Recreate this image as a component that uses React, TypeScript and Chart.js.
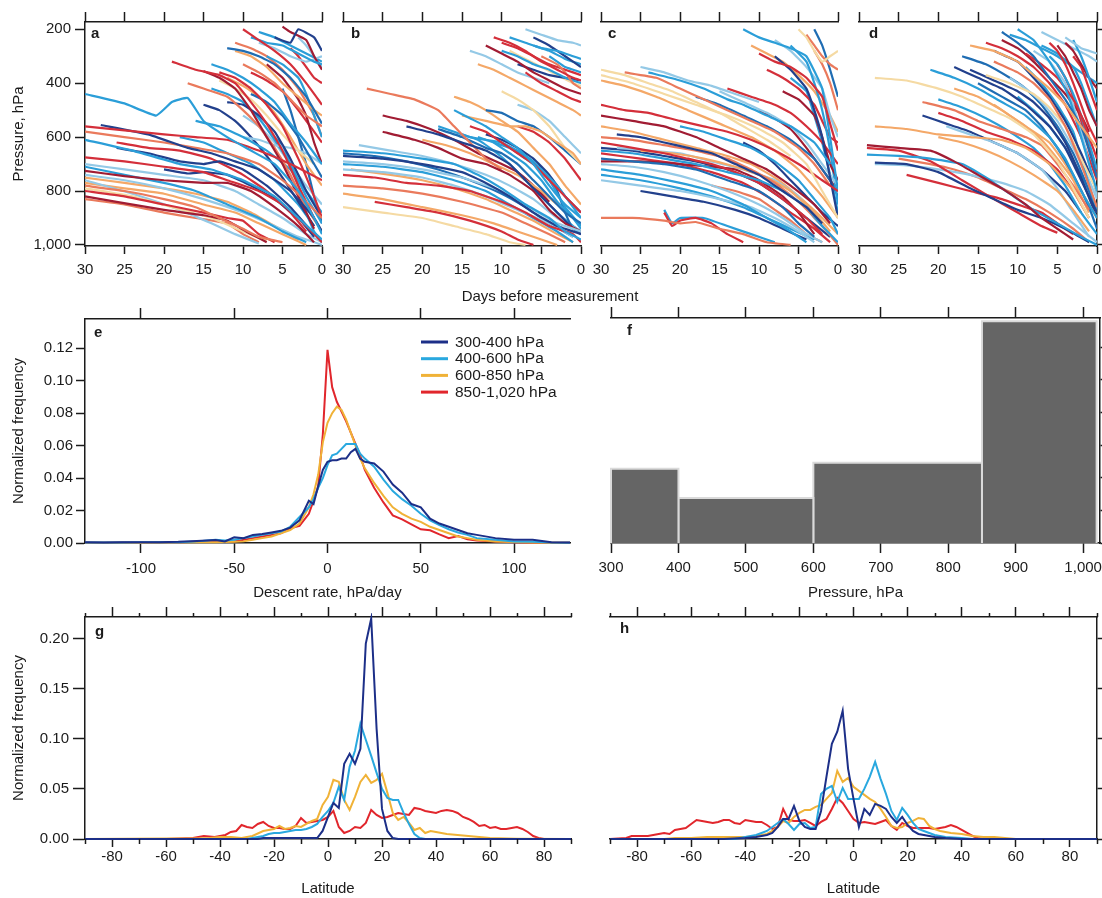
import React, { useEffect, useRef } from 'react';
import { Chart, registerables } from 'chart.js';

Chart.register(...registerables);

const FONT = '"Liberation Sans", Arial, Helvetica, sans-serif';
const INK = '#1b1b1b';
Chart.defaults.font.family = FONT;
Chart.defaults.color = INK;

// ---------------- DATA ----------------
// tick values
const dayTicks = [0, 5, 10, 15, 20, 25, 30];
const pressureTicks = [200, 400, 600, 800, 1000];
const rateTicks = [-100, -50, 0, 50, 100];
const freqTicksE = [0, 0.02, 0.04, 0.06, 0.08, 0.1, 0.12];
const histTicks = [300, 400, 500, 600, 700, 800, 900, 1000];
const latTicks = [-80, -60, -40, -20, 0, 20, 40, 60, 80];
const latMinor = [-90, -70, -50, -30, -10, 10, 30, 50, 70, 90];
const freqTicksLat = [0, 0.05, 0.1, 0.15, 0.2];

// panels a-d : trajectories, [days before measurement, pressure hPa]
const trackPalette = ['#22408c', '#1f6db3', '#2b9ed8', '#94c9e6', '#f5daa3', '#f4a868', '#ea7a5c', '#d42f3a', '#a11c33'];

const aTracks = [
  [[30,440],[25,475],[21,520],[19,470],[17,455],[15,540],[12,600],[9,650],[6,700],[3,800],[1,900],[0,960]],
  [[30,560],[25,575],[20,590],[16,600],[12,610],[8,650],[4,700],[0,760]],
  [[28,555],[22,590],[17,640],[14,660],[11,690],[8,720],[4,800],[1,900],[0,950]],
  [[30,610],[24,650],[18,700],[14,720],[10,760],[6,820],[3,900],[0,980]],
  [[30,580],[25,600],[20,620],[16,640],[12,660],[8,700],[5,760],[2,840],[0,900]],
  [[30,675],[25,690],[20,710],[15,730],[12,760],[8,800],[5,850],[2,930],[0,990]],
  [[26,640],[22,660],[18,690],[15,700],[13,690],[10,720],[7,780],[4,860],[1,960]],
  [[30,725],[25,745],[20,760],[15,770],[12,770],[9,800],[6,860],[3,930],[1,990]],
  [[30,710],[25,740],[20,770],[16,800],[12,850],[8,900],[5,950],[2,990]],
  [[30,740],[25,760],[20,790],[15,830],[10,880],[6,930],[3,970],[0,1000]],
  [[30,780],[25,800],[20,830],[16,860],[13,900],[10,940],[8,970],[5,990]],
  [[30,800],[25,820],[20,850],[15,880],[12,900],[10,910],[8,960],[6,990]],
  [[30,820],[26,840],[20,870],[15,890],[12,910],[9,960],[7,990]],
  [[30,790],[24,820],[19,860],[14,900],[10,950],[7,985]],
  [[30,760],[24,810],[18,870],[14,920],[11,960],[8,995]],
  [[30,770],[25,790],[20,810],[15,850],[11,880],[8,920],[5,960],[2,1000]],
  [[19,320],[16,350],[13,370],[11,400],[9,470],[7,550],[5,650],[3,780],[1,900]],
  [[15,355],[13,380],[11,420],[9,500],[7,600],[5,700],[3,820],[1,940]],
  [[17,400],[15,420],[12,450],[10,500],[8,560],[6,640],[4,740],[2,860],[0,950]],
  [[14,330],[12,350],[10,380],[8,420],[6,470],[4,550],[2,620],[0,700]],
  [[12,270],[10,280],[8,300],[6,330],[4,380],[2,450],[0,550]],
  [[10,200],[8,240],[6,280],[4,330],[2,400],[0,480]],
  [[9,230],[7,250],[5,260],[3,290],[1,320],[0,330]],
  [[11,280],[9,300],[7,340],[5,400],[3,450],[1,500],[0,520]],
  [[6,230],[4,250],[3,200],[1,230],[0,280]],
  [[5,190],[4,210],[2,240],[1,300],[0,350]],
  [[8,250],[6,270],[4,300],[2,320],[0,300]],
  [[13,360],[11,380],[9,420],[7,480],[5,560],[3,680],[1,820],[0,900]],
  [[12,470],[10,480],[8,520],[6,580],[4,680],[2,800],[0,900]],
  [[16,540],[13,560],[10,600],[7,650],[4,720],[2,800],[0,880]],
  [[9,440],[7,470],[5,520],[3,600],[1,700],[0,750]],
  [[10,330],[8,360],[6,400],[4,460],[2,520],[0,560]],
  [[13,390],[11,420],[9,460],[7,520],[5,590],[3,650],[1,700]],
  [[7,300],[5,330],[3,380],[2,440],[1,520],[0,600]],
  [[4,270],[3,300],[2,340],[1,380],[0,400]],
  [[20,720],[17,735],[15,730],[12,740],[9,780],[6,830],[3,900],[1,970]],
  [[10,600],[8,610],[6,630],[4,640],[2,660],[0,700]],
  [[6,600],[5,630],[4,700],[3,780],[2,880],[1,950],[0,990]],
  [[30,700],[25,720],[20,740],[15,760],[11,800],[8,850],[5,900],[2,960],[0,990]],
  [[30,750],[25,770],[20,790],[16,810],[12,840],[9,880],[6,930],[3,980]],
  [[30,830],[25,850],[20,880],[16,900],[12,920],[10,960],[8,990]],
  [[26,620],[22,640],[18,650],[14,680],[10,740],[7,800],[4,880],[2,950]],
  [[14,420],[12,440],[10,470],[8,530],[6,610],[4,700],[2,820],[0,920]],
  [[11,250],[9,270],[7,300],[5,350],[3,420],[1,520],[0,600]],
  [[8,210],[6,230],[4,260],[2,290],[0,320]],
  [[7,330],[5,380],[3,460],[2,520],[1,620],[0,700]],
  [[15,480],[13,500],[11,540],[9,600],[7,670],[5,750],[3,840],[1,930]],
  [[12,380],[10,410],[8,450],[6,510],[4,600],[2,700],[0,780]],
  [[10,520],[8,560],[6,620],[4,700],[2,780],[0,850]],
  [[18,600],[15,620],[12,660],[9,700],[6,760],[3,850],[1,930]],
  [[5,420],[4,500],[3,600],[2,700],[1,820],[0,920]],
  [[3,230],[2,260],[1,300],[0,340]],
  [[9,360],[7,390],[5,430],[3,500],[1,580],[0,620]],
];
const aClass = [2,7,0,2,6,7,0,8,2,3,6,7,8,4,3,5,7,8,6,2,1,7,2,5,0,8,3,7,0,2,1,6,4,2,7,0,3,2,3,5,6,7,2,6,2,8,0,5,3,2,1,3,7];

const bTracks = [
  [[30,650],[25,660],[20,680],[16,700],[13,740],[10,790],[7,850],[4,900],[2,950],[0,980]],
  [[30,670],[25,680],[20,700],[15,730],[12,770],[9,820],[6,880],[3,930],[0,960]],
  [[30,690],[25,700],[20,720],[15,750],[10,800],[6,870],[3,920],[0,950]],
  [[30,740],[26,750],[22,770],[18,780],[14,800],[10,840],[7,880],[4,930],[1,960],[0,990]],
  [[30,780],[25,790],[20,810],[15,840],[10,880],[7,920],[4,960],[2,990]],
  [[30,810],[25,830],[20,860],[15,890],[11,920],[8,950],[5,980],[3,1000]],
  [[26,840],[22,860],[18,880],[14,910],[10,950],[8,980],[6,1000]],
  [[30,860],[25,880],[20,900],[16,930],[12,960],[9,990],[7,1000]],
  [[25,580],[21,610],[18,640],[15,680],[12,700],[9,740],[6,800],[4,870],[2,920],[0,950]],
  [[22,560],[18,590],[15,620],[12,650],[9,700],[7,760],[5,820],[3,880],[1,940]],
  [[27,420],[24,440],[21,460],[18,500],[16,560],[14,620],[12,680],[10,720]],
  [[16,500],[14,530],[12,560],[10,600],[8,640],[6,700],[4,780],[2,850],[0,900]],
  [[18,570],[15,600],[12,640],[10,660],[8,700],[6,760],[4,820],[2,880],[0,920]],
  [[14,560],[12,580],[10,620],[8,660],[6,700],[4,760],[2,820],[0,880]],
  [[13,600],[11,620],[9,640],[7,680],[5,720],[3,780],[1,860],[0,900]],
  [[20,610],[17,630],[14,660],[11,700],[8,740],[5,800],[3,850]],
  [[15,520],[12,540],[9,560],[7,560],[5,580],[3,620],[1,660],[0,700]],
  [[11,230],[9,250],[7,280],[5,320],[3,350],[1,380],[0,390]],
  [[12,260],[10,290],[8,320],[6,360],[4,390],[2,420],[0,440]],
  [[9,230],[7,250],[5,270],[3,280],[1,300],[0,310]],
  [[6,230],[4,260],[2,300],[0,340]],
  [[7,200],[5,220],[3,240],[1,250],[0,260]],
  [[13,330],[11,350],[9,380],[7,410],[5,440],[3,470],[1,500],[0,520]],
  [[5,300],[3,330],[2,360],[1,400],[0,420]],
  [[18,560],[16,580],[14,600],[12,610],[10,620],[8,650],[6,690],[4,760],[2,860],[0,930]],
  [[8,560],[6,580],[4,620],[2,680],[1,720],[0,760]],
  [[10,430],[8,460],[6,500],[4,560],[2,640],[0,700]],
  [[4,300],[3,320],[2,340],[1,350],[0,360]],
  [[12,500],[10,510],[8,540],[6,560],[4,600],[2,650],[0,700]],
  [[30,720],[25,730],[20,750],[16,780],[12,820],[8,870],[4,920],[1,970]],
  [[10,280],[8,300],[6,330],[4,350],[2,380],[0,400]],
  [[8,330],[6,350],[4,370],[2,380],[0,390]],
  [[7,360],[5,400],[3,430],[1,460],[0,470]],
  [[14,280],[12,300],[10,330],[8,360],[6,380],[4,400]],
  [[11,620],[9,660],[7,700],[5,760],[3,840],[1,900],[0,940]],
  [[9,640],[7,670],[5,720],[3,800],[2,880],[1,940],[0,960]],
  [[30,700],[25,710],[20,730],[16,760],[12,800],[9,850],[6,900],[3,950],[1,990]],
  [[30,660],[26,670],[22,690],[18,720],[14,760],[10,810],[7,860],[4,920],[1,970]],
  [[28,630],[24,650],[20,670],[16,700],[12,740],[9,780],[6,830],[3,900],[0,950]],
  [[29,720],[24,740],[20,760],[16,790],[12,830],[9,870],[6,910],[3,960],[1,990]],
  [[25,520],[22,540],[19,570],[16,610],[13,660],[10,700],[8,730],[6,780],[4,840]],
  [[15,590],[13,610],[11,650],[9,700],[7,760],[5,820],[3,880],[1,930],[0,950]],
  [[12,590],[10,610],[8,640],[6,680],[4,740],[2,820],[0,880]],
  [[9,280],[7,310],[5,340],[3,370],[1,400],[0,410]],
  [[6,260],[4,280],[2,310],[0,330]],
  [[10,250],[8,270],[6,300],[4,330],[2,350],[0,370]],
  [[16,450],[14,470],[12,500],[10,540],[8,580],[6,640],[4,700],[2,780],[0,850]],
  [[8,480],[6,500],[4,540],[2,600],[0,660]],
];
const bClass = [2,0,3,7,6,5,7,4,8,0,6,2,1,7,2,5,5,7,8,2,0,3,5,6,2,7,4,2,1,3,2,0,7,3,2,1,2,1,3,5,8,2,0,4,2,7,5,3];

const cTracks = [
  [[30,370],[26,400],[22,440],[18,480],[14,520],[10,570],[7,620],[4,700],[2,800],[0,900]],
  [[24,360],[20,390],[17,420],[14,460],[12,480],[9,520],[6,560],[3,620],[1,700]],
  [[25,340],[22,360],[19,390],[16,410],[13,440],[10,470]],
  [[30,480],[27,500],[24,510],[20,540],[17,560],[14,580],[11,610],[8,650],[5,700],[2,760],[0,800]],
  [[30,520],[26,540],[22,560],[18,600],[15,640],[12,680],[9,720],[6,780],[3,850],[1,920]],
  [[30,390],[27,410],[23,450],[19,500],[15,550],[11,600],[8,650],[5,720],[2,820],[0,900]],
  [[28,590],[25,600],[22,620],[19,640],[16,660],[13,700],[10,740],[7,800],[4,860],[2,920]],
  [[30,650],[26,660],[22,680],[18,700],[14,730],[10,760],[7,800],[4,860],[2,930],[0,990]],
  [[30,620],[26,640],[22,660],[19,680],[16,700],[13,730],[10,770],[7,830],[4,900],[2,960]],
  [[30,680],[26,690],[22,700],[18,720],[14,760],[10,800],[7,860],[5,920],[3,970]],
  [[30,700],[26,710],[22,730],[18,760],[14,800],[10,850],[7,900],[4,960],[2,990]],
  [[30,720],[25,740],[20,770],[16,800],[12,850],[9,900],[6,950],[4,990]],
  [[30,600],[26,610],[22,630],[18,650],[14,680],[11,720],[8,770],[5,840],[2,930],[0,1000]],
  [[30,690],[25,690],[20,700],[16,710],[13,720],[10,760],[7,820],[5,880],[3,960]],
  [[30,900],[26,900],[22,910],[20,920],[18,915],[15,940],[12,960],[9,990],[6,1000]],
  [[22,880],[21,930],[20,910],[18,900],[16,920],[14,960],[12,990]],
  [[22,870],[21,920],[20,900],[17,900],[14,930],[11,960],[8,990]],
  [[25,800],[21,820],[17,840],[13,870],[10,900],[7,940],[4,980]],
  [[30,760],[25,780],[20,800],[15,830],[11,860],[8,900],[5,950],[3,990]],
  [[10,290],[8,320],[6,340],[4,380],[2,450],[1,550],[0,650]],
  [[12,200],[10,230],[8,250],[6,270],[4,300],[2,420],[1,600],[0,800]],
  [[8,300],[6,350],[4,420],[3,500],[2,600],[1,750],[0,900]],
  [[5,200],[4,230],[3,280],[2,320],[1,300],[0,280]],
  [[4,220],[3,260],[2,300],[1,330],[0,350]],
  [[7,430],[5,460],[3,520],[2,600],[1,700],[0,760]],
  [[3,200],[2,260],[1,350],[0,450]],
  [[15,430],[12,470],[9,510],[6,560],[4,620],[2,700],[0,780]],
  [[14,420],[11,450],[8,480],[6,510],[4,560],[2,620],[0,700]],
  [[20,560],[17,580],[14,610],[11,640],[8,690],[5,760],[3,830],[1,900],[0,960]],
  [[25,650],[21,660],[17,680],[13,710],[9,750],[6,800],[3,880],[1,950]],
  [[6,260],[4,320],[3,400],[2,500],[1,650],[0,850]],
  [[9,350],[7,380],[5,420],[3,480],[2,540],[1,600],[0,620]],
  [[3,280],[2,330],[1,400],[0,500]],
  [[28,640],[24,650],[20,660],[16,690],[12,720],[8,760],[5,820],[3,900],[1,960]],
  [[12,620],[10,650],[8,700],[6,760],[4,820],[2,880],[0,930]],
  [[30,640],[26,650],[22,670],[18,690],[14,720],[10,770],[7,830],[4,900],[1,970]],
  [[30,660],[25,680],[20,700],[16,730],[12,770],[9,820],[6,880],[3,940],[1,990]],
  [[30,740],[25,760],[20,790],[16,820],[12,860],[9,900],[6,940],[3,980]],
  [[30,560],[26,580],[22,610],[18,640],[14,670],[11,700],[8,750],[5,820],[2,900],[0,960]],
  [[27,360],[23,380],[20,420],[17,460],[14,500],[11,540],[8,580],[5,640],[3,700],[1,780]],
  [[30,350],[27,370],[24,400],[21,430],[18,470],[15,510],[12,560],[9,610],[6,670]],
  [[18,450],[15,480],[12,520],[9,560],[6,610],[3,680],[1,760],[0,820]],
  [[10,500],[8,530],[6,570],[4,640],[2,720],[0,800]],
  [[8,240],[6,280],[4,340],[2,420],[1,520],[0,600]],
  [[11,260],[9,290],[7,320],[5,370],[3,430],[1,520],[0,580]],
  [[6,380],[4,430],[3,520],[2,620],[1,740],[0,880]],
  [[16,780],[13,800],[10,830],[8,870],[6,910],[4,960],[2,990]],
];
const cClass = [4,2,3,7,8,5,0,2,7,1,3,2,6,8,6,7,2,0,3,7,2,0,4,6,8,1,3,7,2,5,2,7,6,3,0,0,7,2,5,6,4,1,8,3,5,2,6];

const dTracks = [
  [[28,380],[24,390],[20,420],[17,450],[14,490],[11,530],[8,590],[5,690],[3,790],[1,900]],
  [[28,560],[24,570],[20,590],[16,600],[12,610],[9,640],[6,700],[3,800],[1,900]],
  [[29,630],[25,640],[21,650],[18,690],[15,740],[12,790],[9,850],[7,900],[5,940],[3,980]],
  [[29,665],[25,670],[21,680],[17,700],[14,750],[11,810],[8,870],[5,920],[2,970],[0,1000]],
  [[28,695],[24,700],[20,730],[16,790],[13,830],[10,870],[7,900],[4,940],[1,990]],
  [[29,640],[25,650],[21,690],[17,760],[13,830],[10,880],[7,930],[5,955]],
  [[28,700],[24,705],[20,720],[16,740],[12,770],[9,800],[6,850],[3,920],[0,990]],
  [[20,510],[17,540],[14,580],[11,610],[8,650],[5,720],[3,800],[1,900]],
  [[22,470],[18,500],[15,540],[12,570],[9,600],[7,630],[5,700],[3,780],[1,870]],
  [[21,350],[18,380],[15,420],[12,470],[9,520],[6,600],[4,680],[2,800],[0,900]],
  [[18,340],[15,380],[12,420],[9,480],[6,560],[4,640],[2,760],[0,880]],
  [[16,260],[13,280],[10,320],[8,370],[6,420],[4,480],[2,560],[0,640]],
  [[12,210],[10,250],[8,300],[6,380],[4,460],[2,560],[1,650],[0,750]],
  [[10,200],[8,240],[6,320],[4,420],[3,500],[2,600],[1,700],[0,800]],
  [[6,250],[5,280],[4,330],[3,400],[2,480],[1,560],[0,620]],
  [[5,260],[4,300],[3,360],[2,420],[1,500],[0,560]],
  [[4,230],[3,250],[2,270],[1,280],[0,290]],
  [[3,240],[2,300],[1,380],[0,470]],
  [[13,320],[10,360],[8,400],[6,460],[4,560],[2,700],[0,860]],
  [[15,400],[12,450],[9,500],[7,560],[5,640],[3,740],[1,860],[0,940]],
  [[14,370],[11,400],[8,440],[6,490],[4,560],[2,680],[0,800]],
  [[9,290],[7,330],[5,380],[3,460],[2,520],[1,600],[0,680]],
  [[7,260],[5,290],[3,340],[2,400],[1,480],[0,560]],
  [[20,600],[17,620],[14,650],[11,690],[8,740],[5,800],[3,870],[1,950]],
  [[13,280],[10,320],[8,380],[6,450],[4,540],[2,660],[0,800]],
  [[18,420],[15,450],[12,500],[9,560],[6,620],[4,700],[2,800],[0,900]],
  [[9,340],[7,400],[5,480],[3,580],[2,680],[1,780],[0,870]],
  [[4,250],[3,280],[2,330],[1,380],[0,420]],
  [[11,380],[9,420],[7,470],[5,540],[3,640],[1,760],[0,830]],
  [[24,740],[20,770],[16,800],[12,830],[9,860],[7,880],[5,920],[3,960]],
  [[6,300],[5,330],[4,380],[3,440],[2,520],[1,620],[0,720]],
  [[8,280],[6,320],[4,400],[3,480],[2,580],[1,700],[0,820]],
  [[3,300],[2,340],[1,420],[0,500]],
  [[16,350],[13,390],[10,430],[8,470],[6,530],[4,620],[2,750],[0,900]],
  [[20,460],[17,490],[14,530],[11,580],[8,640],[6,700],[4,780],[2,880],[0,960]],
  [[17,300],[14,330],[11,380],[9,420],[7,480],[5,560],[3,660],[1,800],[0,880]],
  [[14,250],[12,270],[10,300],[8,340],[6,400],[4,480],[2,600],[0,760]],
  [[12,240],[10,270],[8,320],[6,380],[4,440],[2,520],[1,580]],
  [[11,220],[9,240],[7,270],[5,300],[3,340],[1,380],[0,400]],
  [[7,210],[5,240],[3,270],[1,300],[0,320]],
  [[19,560],[16,590],[13,620],[10,660],[7,720],[5,790],[3,880],[1,970]],
  [[22,520],[19,550],[16,580],[13,620],[10,660],[7,720],[4,800],[2,880]],
  [[25,680],[21,700],[18,720],[15,750],[12,790],[9,830],[6,880],[3,940],[1,990]],
  [[10,450],[8,500],[6,560],[4,640],[2,740],[0,860]],
  [[5,330],[4,380],[3,450],[2,540],[1,640],[0,740]],
  [[13,480],[11,520],[9,560],[7,610],[5,680],[3,760],[1,880]],
];
const dClass = [4,5,8,2,0,7,3,7,6,2,0,5,1,2,7,8,3,2,6,1,4,7,2,5,0,5,2,8,3,7,2,3,7,0,2,1,7,8,2,3,3,0,6,2,7,5];

// series (pressure ranges)
const seriesLabels = ['300-400 hPa', '400-600 hPa', '600-850 hPa', '850-1,020 hPa'];
const seriesColors = ['#1c2f88', '#29a8df', '#f0b237', '#e1262c'];

// panel e : descent rate distributions
const descentRate = [-130,-120,-110,-100,-90,-80,-70,-60,-55,-50,-45,-40,-35,-30,-25,-20,-15,-10,-7.5,-5,-2.5,0,2.5,5,7.5,10,12.5,15,17.5,20,25,30,35,40,45,50,55,60,65,70,75,80,90,100,110,120,130];
const rate300 = [0.0004,0.0003,0.0005,0.0004,0.0005,0.0007,0.0012,0.0018,0.001,0.0035,0.003,0.005,0.0055,0.0065,0.0075,0.0095,0.014,0.026,0.024,0.035,0.045,0.050,0.051,0.051,0.052,0.052,0.056,0.058,0.052,0.050,0.049,0.044,0.036,0.031,0.024,0.022,0.015,0.012,0.010,0.008,0.006,0.005,0.003,0.002,0.002,0.0005,0.0003];
const rate400 = [0.0003,0.0003,0.0003,0.0004,0.0004,0.0005,0.001,0.002,0.0015,0.002,0.003,0.004,0.005,0.006,0.007,0.010,0.016,0.022,0.027,0.034,0.040,0.048,0.054,0.055,0.058,0.061,0.061,0.061,0.055,0.052,0.047,0.039,0.032,0.027,0.023,0.018,0.014,0.011,0.0085,0.0065,0.005,0.003,0.002,0.001,0.0007,0.0003,0.0002];
const rate600 = [0.0001,0.0001,0.0002,0.0002,0.0003,0.0004,0.0004,0.0005,0.0006,0.0008,0.001,0.002,0.003,0.004,0.006,0.008,0.012,0.022,0.030,0.042,0.062,0.074,0.080,0.084,0.082,0.076,0.068,0.060,0.052,0.046,0.037,0.029,0.022,0.018,0.015,0.013,0.010,0.008,0.006,0.004,0.003,0.002,0.001,0.0006,0.0003,0.0002,0.0001];
const rate850 = [0.0002,0.0002,0.0003,0.0003,0.0004,0.0005,0.0007,0.001,0.001,0.001,0.002,0.003,0.004,0.005,0.006,0.009,0.0105,0.018,0.026,0.035,0.067,0.119,0.096,0.087,0.081,0.075,0.068,0.061,0.054,0.045,0.034,0.025,0.017,0.0146,0.0115,0.0084,0.0078,0.0053,0.003,0.0043,0.0023,0.0016,0.001,0.0004,0.0002,0.0002,0.0001];

// panel f : histogram of pressure
const histEdges = [300, 400, 600, 850, 1020];
const histFreq = [0.0455, 0.0276, 0.0492, 0.136];

// panel g : latitude distributions
const gLat300 = [-90,-26,-24,-6,-4,-2,0,2,4,6,8,10,12,14,16,18,20,22,24,26,90];
const gVal300 = [0,0,0.001,0.001,0.001,0.008,0.022,0.036,0.031,0.075,0.085,0.075,0.090,0.195,0.220,0.110,0.030,0.008,0.001,0,0];
const gLat400 = [-90,-30,-28,-26,-24,-22,-20,-18,-16,-14,-12,-10,-8,-6,-4,-2,0,2,4,6,8,10,12,14,16,18,20,22,24,26,28,30,32,34,36,90];
const gVal400 = [0,0,0.001,0.002,0.003,0.005,0.006,0.006,0.007,0.008,0.009,0.009,0.010,0.012,0.015,0.022,0.028,0.036,0.052,0.039,0.072,0.088,0.115,0.099,0.083,0.066,0.050,0.041,0.039,0.039,0.026,0.015,0.005,0.001,0,0];
const gLat600 = [-90,-60,-50,-44,-40,-36,-32,-28,-24,-20,-18,-16,-14,-12,-10,-8,-6,-4,-2,0,2,4,6,8,10,12,14,16,18,20,22,24,26,28,30,32,34,36,38,40,42,44,48,52,56,60,70,90];
const gVal600 = [0,0.0005,0.0005,0.001,0.002,0.002,0.001,0.003,0.008,0.010,0.013,0.010,0.011,0.013,0.012,0.015,0.018,0.020,0.034,0.042,0.059,0.057,0.039,0.029,0.042,0.057,0.064,0.056,0.059,0.065,0.046,0.026,0.019,0.022,0.016,0.009,0.011,0.006,0.008,0.007,0.006,0.005,0.004,0.003,0.002,0.001,0.0003,0];
const gLat850 = [-90,-60,-50,-46,-42,-38,-36,-34,-32,-30,-28,-26,-24,-22,-20,-18,-16,-14,-12,-10,-8,-6,-4,-2,0,2,4,6,8,10,12,14,16,18,20,22,24,26,28,30,32,34,36,38,40,42,44,46,48,50,52,54,56,58,60,62,64,66,68,70,72,74,76,78,80,90];
const gVal850 = [0,0,0.001,0.003,0.002,0.004,0.007,0.008,0.014,0.012,0.011,0.015,0.017,0.013,0.011,0.011,0.010,0.010,0.013,0.021,0.016,0.017,0.018,0.019,0.022,0.028,0.012,0.006,0.008,0.012,0.011,0.016,0.029,0.024,0.021,0.022,0.024,0.026,0.025,0.024,0.031,0.030,0.028,0.027,0.026,0.028,0.029,0.028,0.026,0.022,0.020,0.017,0.013,0.014,0.011,0.012,0.010,0.010,0.011,0.012,0.010,0.007,0.003,0.001,0,0];

// panel h : latitude distributions
const hLat300 = [-90,-48,-44,-40,-36,-32,-30,-28,-26,-24,-22,-20,-18,-16,-14,-12,-10,-8,-6,-4,-2,0,2,4,6,8,10,12,14,16,18,20,22,24,26,28,30,34,40,90];
const hVal300 = [0,0,0.0005,0.001,0.002,0.004,0.006,0.012,0.020,0.020,0.033,0.018,0.012,0.010,0.010,0.028,0.062,0.095,0.107,0.128,0.070,0.040,0.012,0.030,0.024,0.035,0.033,0.030,0.022,0.016,0.022,0.014,0.008,0.005,0.004,0.003,0.002,0.001,0,0];
const hLat400 = [-90,-44,-40,-36,-34,-32,-30,-28,-26,-24,-22,-20,-18,-16,-14,-12,-10,-8,-6,-4,-2,0,2,4,6,8,10,12,14,16,18,20,22,24,26,28,30,34,40,44,90];
const hVal400 = [0,0,0.002,0.004,0.006,0.008,0.012,0.016,0.020,0.015,0.009,0.015,0.016,0.011,0.012,0.045,0.050,0.053,0.037,0.051,0.040,0.040,0.040,0.050,0.062,0.077,0.060,0.045,0.028,0.019,0.031,0.024,0.016,0.010,0.008,0.006,0.004,0.002,0.001,0,0];
const hLat600 = [-90,-70,-66,-60,-54,-50,-44,-40,-36,-34,-32,-30,-28,-26,-24,-22,-20,-18,-16,-14,-12,-10,-8,-6,-4,-2,0,2,4,6,8,10,12,14,16,18,20,22,24,26,28,30,32,34,36,40,44,48,52,56,60,90];
const hVal600 = [0,0,0.001,0.001,0.002,0.002,0.002,0.002,0.003,0.004,0.005,0.008,0.012,0.018,0.016,0.022,0.026,0.029,0.029,0.032,0.034,0.040,0.046,0.068,0.057,0.061,0.052,0.048,0.044,0.040,0.037,0.030,0.022,0.013,0.011,0.012,0.016,0.018,0.021,0.020,0.013,0.010,0.008,0.007,0.006,0.005,0.003,0.002,0.002,0.001,0,0];
const hLat850 = [-90,-84,-82,-80,-78,-76,-74,-72,-70,-68,-66,-64,-62,-60,-58,-56,-54,-52,-50,-48,-46,-44,-42,-40,-38,-36,-34,-32,-30,-28,-26,-24,-22,-20,-18,-16,-14,-12,-10,-8,-6,-4,-2,0,2,4,6,8,10,12,14,16,18,20,22,24,26,28,30,32,34,36,38,40,42,44,46,48,50,90];
const hVal850 = [0,0.001,0.003,0.003,0.003,0.003,0.004,0.005,0.006,0.005,0.009,0.010,0.011,0.015,0.019,0.018,0.017,0.016,0.017,0.019,0.019,0.016,0.015,0.019,0.018,0.017,0.017,0.014,0.010,0.012,0.030,0.019,0.018,0.018,0.019,0.016,0.013,0.017,0.020,0.030,0.041,0.036,0.028,0.020,0.016,0.017,0.016,0.015,0.017,0.019,0.013,0.009,0.016,0.013,0.011,0.011,0.011,0.011,0.010,0.011,0.012,0.014,0.012,0.009,0.006,0.003,0.001,0,0,0];

// ---------------- HELPERS ----------------
const COMMA = (v: any) => Number(v).toLocaleString('en-US');
const FIX2 = (v: any) => Number(v).toFixed(2);
const PLAIN = (v: any) => String(v);

function sized(size: number) {
  return (s: any) => {
    if (s.isHorizontal()) s.height = size; else s.width = size;
    s.paddingLeft = 0; s.paddingRight = 0; s.paddingTop = 0; s.paddingBottom = 0;
  };
}

function mkAxis(o: any) {
  return {
    type: 'linear',
    axis: o.axis,
    position: o.position,
    min: o.min,
    max: o.max,
    reverse: !!o.reverse,
    afterFit: sized(o.size),
    afterBuildTicks: (s: any) => { s.ticks = o.ticks.map((v: number) => ({ value: v })); },
    border: { display: true, color: INK, width: 1.5 },
    grid: { drawOnChartArea: false, drawTicks: true, tickLength: o.tick, tickColor: INK, tickWidth: 1.5 },
    ticks: {
      display: !!o.labels,
      autoSkip: false,
      maxRotation: 0,
      color: INK,
      font: { family: FONT, size: 15 },
      padding: o.pad ?? 4,
      callback: o.fmt ?? PLAIN,
    },
    title: o.title
      ? { display: true, text: o.title, color: INK, font: { family: FONT, size: 15 }, padding: { top: o.titlePad ?? 0, bottom: o.titlePad ?? 0 } }
      : { display: false },
  };
}

const decor = {
  id: 'decor',
  afterDraw(chart: any, _args: any, opts: any) {
    const { ctx, chartArea: ca } = chart;
    ctx.save();
    if (opts && opts.minor) {
      ctx.strokeStyle = INK;
      ctx.lineWidth = 1.5;
      for (const m of opts.minor) {
        const s = chart.scales[m.scale];
        if (!s) continue;
        for (const v of m.values) {
          const px = Math.round(s.getPixelForValue(v)) + 0.5;
          ctx.beginPath();
          if (s.position === 'bottom') { ctx.moveTo(px, s.top); ctx.lineTo(px, s.top + m.len); }
          else { ctx.moveTo(px, s.bottom); ctx.lineTo(px, s.bottom - m.len); }
          ctx.stroke();
        }
      }
    }
    if (opts && opts.letter) {
      ctx.font = `bold 15px ${FONT}`;
      ctx.fillStyle = INK;
      ctx.textAlign = 'left';
      ctx.textBaseline = 'middle';
      ctx.fillText(opts.letter, ca.left + opts.dx, ca.top + opts.dy);
    }
    if (opts && opts.legend) {
      const lg = opts.legend;
      ctx.font = `15.5px ${FONT}`;
      ctx.textAlign = 'left';
      ctx.textBaseline = 'middle';
      chart.data.datasets.forEach((ds: any, i: number) => {
        const y = ca.top + lg.y0 + i * lg.dy;
        ctx.strokeStyle = ds.borderColor;
        ctx.lineWidth = 3;
        ctx.beginPath();
        ctx.moveTo(ca.left + lg.x0, y);
        ctx.lineTo(ca.left + lg.x1, y);
        ctx.stroke();
        ctx.fillStyle = INK;
        ctx.fillText(ds.label, ca.left + lg.tx, y + 0.5);
      });
    }
    ctx.restore();
  },
};

function baseOptions(scales: any, padding: any, decorOpts: any) {
  return {
    responsive: false,
    maintainAspectRatio: false,
    animation: false,
    events: [],
    layout: { padding },
    scales,
    plugins: {
      legend: { display: false },
      tooltip: { enabled: false },
      title: { display: false },
      decor: decorOpts,
    },
  };
}

// ---------------- PANEL CONFIGS ----------------
const P_MIN = 173;
const P_MAX = 1004;

function trackConfig(tracks: number[][][], cls: number[], o: any) {
  const datasets = tracks.map((t, i) => ({
    data: t.map(([d, p]) => ({ x: d, y: p })),
    borderColor: trackPalette[cls[i]],
    borderWidth: 2.2,
    pointRadius: 0,
    tension: 0.12,
    fill: false,
    xAxisID: 'x',
    yAxisID: 'y',
  }));
  const scales: any = {
    x: mkAxis({ axis: 'x', position: 'bottom', min: 0, max: 30, ticks: dayTicks, size: 44, tick: 8, labels: true, pad: 7, reverse: true }),
    xt: mkAxis({ axis: 'x', position: 'top', min: 0, max: 30, ticks: dayTicks, size: 22, tick: 10, reverse: true }),
    y: o.leftAxis
      ? mkAxis({ axis: 'y', position: 'left', min: P_MIN, max: P_MAX, ticks: pressureTicks, size: 85, tick: 10, labels: true, pad: 4, reverse: true, fmt: COMMA, title: 'Pressure, hPa', titlePad: 10 })
      : { type: 'linear', axis: 'y', display: false, min: P_MIN, max: P_MAX, reverse: true },
  };
  if (o.rightAxis) {
    scales.yr = mkAxis({ axis: 'y', position: 'right', min: P_MIN, max: P_MAX, ticks: pressureTicks, size: 5, tick: 6, reverse: true });
  }
  return {
    type: 'line',
    data: { datasets },
    options: baseOptions(scales, { left: o.padL, right: o.padR, top: 0, bottom: 0 }, { letter: o.letter, dx: o.dx, dy: 11.5 }),
    plugins: [decor],
  };
}

function lineSet(label: string, color: string, xs: number[], ys: number[], yAxisID: string) {
  return {
    label,
    data: xs.map((x, j) => ({ x, y: ys[j] })),
    borderColor: color,
    borderWidth: 2,
    pointRadius: 0,
    tension: 0,
    fill: false,
    clip: 4,
    xAxisID: 'x',
    yAxisID,
  };
}

function eConfig() {
  const rates = [rate300, rate400, rate600, rate850];
  const datasets = rates.map((r, i) => lineSet(seriesLabels[i], seriesColors[i], descentRate, r, 'y'));
  const scales = {
    x: mkAxis({ axis: 'x', position: 'bottom', min: -130, max: 130, ticks: rateTicks, size: 62, tick: 10, labels: true, pad: 7, title: 'Descent rate, hPa/day', titlePad: 3 }),
    xt: mkAxis({ axis: 'x', position: 'top', min: -130, max: 130, ticks: rateTicks, size: 19, tick: 11 }),
    y: mkAxis({ axis: 'y', position: 'left', min: 0, max: 0.138, ticks: freqTicksE, size: 85, tick: 9, labels: true, pad: 3, fmt: FIX2, title: 'Normalized frequency', titlePad: 10 }),
  };
  return {
    type: 'line',
    data: { datasets },
    options: baseOptions(scales, { left: 0, right: 10, top: 0, bottom: 0 }, {
      letter: 'e', dx: 9, dy: 14,
      legend: { x0: 336, x1: 363, tx: 370, y0: 23, dy: 16.7 },
    }),
    plugins: [decor],
  };
}

function fConfig() {
  const datasets = histFreq.map((v, i) => ({
    data: [
      { x: histEdges[i], y: 0 },
      { x: histEdges[i], y: v },
      { x: histEdges[i + 1], y: v },
      { x: histEdges[i + 1], y: 0 },
    ],
    borderColor: '#dadada',
    borderWidth: 2,
    backgroundColor: '#656565',
    fill: 'origin',
    pointRadius: 0,
    tension: 0,
    clip: 4,
    xAxisID: 'x',
    yAxisID: 'yr',
  }));
  const scales = {
    x: mkAxis({ axis: 'x', position: 'bottom', min: 300, max: 1025, ticks: histTicks, size: 62, tick: 10, labels: true, pad: 6, fmt: COMMA, title: 'Pressure, hPa', titlePad: 3 }),
    xt: mkAxis({ axis: 'x', position: 'top', min: 300, max: 1025, ticks: histTicks, size: 18, tick: 11 }),
    yr: mkAxis({ axis: 'y', position: 'right', min: 0, max: 0.138, ticks: freqTicksE, size: 2, tick: 8 }),
  };
  return {
    type: 'line',
    data: { datasets },
    options: baseOptions(scales, { left: 21, right: 0, top: 0, bottom: 0 }, { letter: 'f', dx: 16, dy: 13 }),
    plugins: [decor],
  };
}

function latConfig(which: 'g' | 'h') {
  const lats = which === 'g' ? [gLat300, gLat400, gLat600, gLat850] : [hLat300, hLat400, hLat600, hLat850];
  const vals = which === 'g' ? [gVal300, gVal400, gVal600, gVal850] : [hVal300, hVal400, hVal600, hVal850];
  const yId = which === 'g' ? 'y' : 'yr';
  const datasets = lats.map((l, i) => lineSet(seriesLabels[i], seriesColors[i], l, vals[i], yId));
  const scales: any = {
    x: mkAxis({ axis: 'x', position: 'bottom', min: -90, max: 90, ticks: latTicks, size: 59, tick: 8, labels: true, pad: 1, title: 'Latitude', titlePad: 0 }),
    xt: mkAxis({ axis: 'x', position: 'top', min: -90, max: 90, ticks: latTicks, size: 17, tick: 10 }),
  };
  if (which === 'g') {
    scales.y = mkAxis({ axis: 'y', position: 'left', min: 0, max: 0.2215, ticks: freqTicksLat, size: 85, tick: 12, labels: true, pad: 4, fmt: FIX2, title: 'Normalized frequency', titlePad: 10 });
  } else {
    scales.yr = mkAxis({ axis: 'y', position: 'right', min: 0, max: 0.2215, ticks: freqTicksLat, size: 5, tick: 6 });
  }
  const padding = which === 'g' ? { left: 0, right: 9, top: 0, bottom: 0 } : { left: 20, right: 0, top: 0, bottom: 0 };
  return {
    type: 'line',
    data: { datasets },
    options: baseOptions(scales, padding, {
      letter: which, dx: 10, dy: which === 'g' ? 15 : 12,
      minor: [
        { scale: 'x', values: latMinor, len: 5 },
        { scale: 'xt', values: latMinor, len: 4 },
      ],
    }),
    plugins: [decor],
  };
}

// ---------------- COMPONENTS ----------------
function ChartBox({ rect, make }: { rect: number[]; make: () => any }) {
  const ref = useRef<HTMLCanvasElement | null>(null);
  useEffect(() => {
    if (!ref.current) return;
    const chart = new Chart(ref.current, make());
    return () => chart.destroy();
  }, []);
  return (
    <canvas
      ref={ref}
      width={rect[2]}
      height={rect[3]}
      style={{ position: 'absolute', left: rect[0], top: rect[1], width: rect[2], height: rect[3] }}
    />
  );
}

export default function App() {
  return (
    <div style={{ position: 'fixed', left: 0, top: 0, width: 1102, height: 898, overflow: 'hidden', background: '#ffffff' }}>
      <ChartBox rect={[0, 0, 330, 290]} make={() => trackConfig(aTracks, aClass, { leftAxis: true, padL: 0, padR: 8, letter: 'a', dx: 6 })} />
      <ChartBox rect={[330, 0, 260, 290]} make={() => trackConfig(bTracks, bClass, { padL: 13, padR: 9, letter: 'b', dx: 8 })} />
      <ChartBox rect={[590, 0, 258, 290]} make={() => trackConfig(cTracks, cClass, { padL: 11, padR: 10, letter: 'c', dx: 7 })} />
      <ChartBox rect={[848, 0, 254, 290]} make={() => trackConfig(dTracks, dClass, { rightAxis: true, padL: 11, padR: 0, letter: 'd', dx: 10 })} />
      <div
        style={{
          position: 'absolute', left: 0, top: 287, width: 1100, textAlign: 'center',
          font: `15px ${FONT}`, lineHeight: '18px', color: INK,
        }}
      >
        Days before measurement
      </div>
      <ChartBox rect={[0, 300, 580, 305]} make={eConfig} />
      <ChartBox rect={[590, 300, 512, 305]} make={fConfig} />
      <ChartBox rect={[0, 600, 580, 298]} make={() => latConfig('g')} />
      <ChartBox rect={[590, 600, 512, 298]} make={() => latConfig('h')} />
    </div>
  );
}
